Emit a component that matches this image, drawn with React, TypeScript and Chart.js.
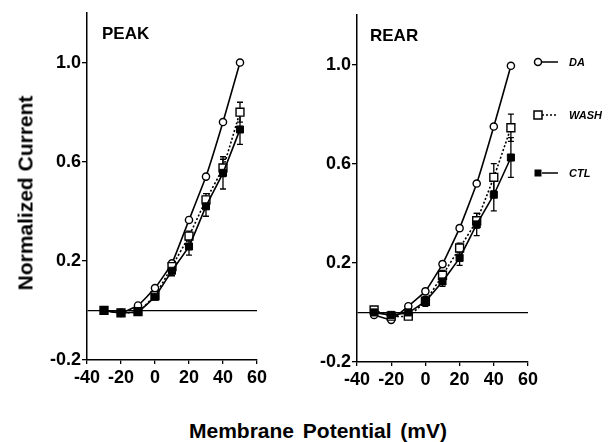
import React, { useEffect, useRef } from 'react';
import { Chart, registerables } from 'chart.js';

Chart.register(...registerables);

// ---- data ----
const voltages = [-30, -20, -10, 0, 10, 20, 30, 40, 50];
const xTickStep = 20;
const xMin = -40;
const xMax = 60;
const yMin = -0.2;
const yMax = 1.2;
const yTickValues = [-0.2, 0, 0.2, 0.6, 1.0];
const yTickLabels = ['-0.2', '', '0.2', '0.6', '1.0'];
const seriesNames = ['DA', 'WASH', 'CTL'];

const peakDA = [0.0, -0.01, 0.02, 0.09, 0.19, 0.365, 0.54, 0.76, 1.0];
const peakWASH = [0.0, -0.01, -0.005, 0.06, 0.177, 0.3, 0.446, 0.575, 0.8];
const peakCTL = [0.0, -0.01, -0.005, 0.055, 0.16, 0.258, 0.42, 0.555, 0.73];
const peakDAErr = [0, 0, 0, 0, 0.01, 0.01, 0, 0, 0];
const peakWASHErr = [0, 0, 0, 0.01, 0.015, 0.02, 0.025, 0.035, 0.04];
const peakCTLErr = [0, 0, 0, 0.01, 0.02, 0.035, 0.04, 0.065, 0.06];

const rearDA = [-0.01, -0.03, 0.025, 0.085, 0.195, 0.34, 0.52, 0.75, 0.995];
const rearWASH = [0.01, -0.015, -0.015, 0.045, 0.15, 0.26, 0.37, 0.545, 0.745];
const rearCTL = [0.0, -0.01, 0.0, 0.045, 0.125, 0.22, 0.355, 0.475, 0.625];
const rearDAErr = [0, 0, 0.01, 0.01, 0.01, 0.01, 0, 0, 0];
const rearWASHErr = [0, 0, 0, 0.01, 0.02, 0.02, 0.03, 0.055, 0.055];
const rearCTLErr = [0, 0, 0, 0.02, 0.02, 0.03, 0.045, 0.065, 0.08];

const FONT = "'Liberation Sans', Arial, Helvetica, sans-serif";

const toPts = (ys: number[]) => voltages.map((x, i) => ({ x, y: ys[i] }));

const errorBarPlugin = {
  id: 'errorBars',
  beforeDatasetsDraw(chart: any) {
    const { ctx } = chart;
    const xs = chart.scales.x;
    const ys = chart.scales.y;
    ctx.save();
    ctx.strokeStyle = '#000';
    ctx.lineWidth = 1.3;
    chart.data.datasets.forEach((ds: any) => {
      const errs: number[] | undefined = ds.errors;
      if (!errs) return;
      ds.data.forEach((p: any, i: number) => {
        const e = errs[i];
        if (!e) return;
        const px = xs.getPixelForValue(p.x);
        const t = ys.getPixelForValue(p.y + e);
        const b = ys.getPixelForValue(p.y - e);
        ctx.beginPath();
        ctx.moveTo(px, t);
        ctx.lineTo(px, b);
        ctx.moveTo(px - 3, t);
        ctx.lineTo(px + 3, t);
        ctx.moveTo(px - 3, b);
        ctx.lineTo(px + 3, b);
        ctx.stroke();
      });
    });
    ctx.restore();
  },
};

const legendPlugin = {
  id: 'sideLegend',
  afterDraw(chart: any) {
    const opts = chart.options.plugins.sideLegend;
    if (!opts || !opts.show) return;
    const { ctx } = chart;
    const rows = [62, 115, 173];
    const mx = 238;
    ctx.save();
    ctx.strokeStyle = '#000';
    ctx.fillStyle = '#000';
    ctx.lineWidth = 1.5;
    rows.forEach((ry, i) => {
      // line
      ctx.beginPath();
      ctx.setLineDash(i === 1 ? [2, 2] : []);
      ctx.moveTo(mx + 4, ry);
      ctx.lineTo(mx + 20, ry);
      ctx.stroke();
      ctx.setLineDash([]);
      // marker
      ctx.beginPath();
      if (i === 0) {
        ctx.arc(mx, ry, 3.5, 0, Math.PI * 2);
        ctx.fillStyle = '#fff';
        ctx.fill();
        ctx.stroke();
      } else if (i === 1) {
        ctx.rect(mx - 4, ry - 4, 8, 8);
        ctx.fillStyle = '#fff';
        ctx.fill();
        ctx.stroke();
      } else {
        ctx.rect(mx - 3.5, ry - 3.5, 7, 7);
        ctx.fillStyle = '#000';
        ctx.fill();
      }
      ctx.fillStyle = '#000';
      ctx.font = `italic bold 11px ${FONT}`;
      ctx.textBaseline = 'middle';
      ctx.textAlign = 'left';
      ctx.fillText(seriesNames[i], 269, ry + 1);
    });
    ctx.restore();
  },
};

function makeConfig(
  da: number[], wash: number[], ctl: number[],
  daErr: number[], washErr: number[], ctlErr: number[],
  pad: { top: number; right: number }, showLegend: boolean
): any {
  return {
    type: 'line',
    data: {
      datasets: [
        {
          label: seriesNames[0], data: toPts(da), errors: daErr, order: 3,
          borderColor: '#000', borderWidth: 1.6, backgroundColor: '#fff',
          pointStyle: 'circle', pointRadius: 3.6, pointBorderWidth: 1.4,
          pointBackgroundColor: '#fff', pointBorderColor: '#000', tension: 0.1,
        },
        {
          label: seriesNames[1], data: toPts(wash), errors: washErr, order: 2,
          borderColor: '#000', borderWidth: 1.6, borderDash: [2, 2], backgroundColor: '#fff',
          pointStyle: 'rect', pointRadius: 5.6, pointBorderWidth: 1.4,
          pointBackgroundColor: '#fff', pointBorderColor: '#000', tension: 0.1,
        },
        {
          label: seriesNames[2], data: toPts(ctl), errors: ctlErr, order: 1,
          borderColor: '#000', borderWidth: 1.6, backgroundColor: '#000',
          pointStyle: 'rect', pointRadius: 5, pointBorderWidth: 1,
          pointBackgroundColor: '#000', pointBorderColor: '#000', tension: 0.1,
        },
      ],
    },
    options: {
      responsive: false,
      animation: false,
      layout: { padding: { top: pad.top, right: pad.right, left: 0, bottom: 0 } },
      plugins: {
        legend: { display: false },
        tooltip: { enabled: false },
        sideLegend: { show: showLegend },
      },
      scales: {
        x: {
          type: 'linear',
          min: xMin,
          max: xMax,
          afterFit: (s: any) => { s.height = 40; },
          ticks: {
            stepSize: xTickStep,
            color: '#000',
            font: { family: FONT, size: 18, weight: 'bold' },
            padding: 3,
            maxRotation: 0,
          },
          grid: { drawOnChartArea: false, tickLength: 4, tickColor: '#000', lineWidth: 1.3 },
          border: { display: true, color: '#000', width: 1.5 },
        },
        y: {
          type: 'linear',
          min: yMin,
          max: yMax,
          afterFit: (s: any) => { s.width = 57; },
          afterBuildTicks: (s: any) => { s.ticks = yTickValues.map((v) => ({ value: v })); },
          ticks: {
            color: '#000',
            font: { family: FONT, size: 18, weight: 'bold' },
            padding: 1,
            callback: (_v: any, i: number) => yTickLabels[i],
          },
          grid: {
            drawOnChartArea: true,
            tickLength: 5,
            lineWidth: 1.3,
            color: (c: any) => (c.tick && c.tick.value === 0 ? '#000' : 'rgba(0,0,0,0)'),
            tickColor: (c: any) => (c.tick && c.tick.value === 0 ? 'rgba(0,0,0,0)' : '#000'),
          },
          border: { display: true, color: '#000', width: 1.5 },
        },
      },
    },
    plugins: [errorBarPlugin, legendPlugin],
  };
}

export default function App() {
  const leftRef = useRef<HTMLCanvasElement | null>(null);
  const rightRef = useRef<HTMLCanvasElement | null>(null);

  useEffect(() => {
    const c1 = new Chart(
      leftRef.current as HTMLCanvasElement,
      makeConfig(peakDA, peakWASH, peakCTL, peakDAErr, peakWASHErr, peakCTLErr, { top: 13, right: 12 }, false)
    );
    const c2 = new Chart(
      rightRef.current as HTMLCanvasElement,
      makeConfig(rearDA, rearWASH, rearCTL, rearDAErr, rearWASHErr, rearCTLErr, { top: 15, right: 82 }, true)
    );
    return () => {
      c1.destroy();
      c2.destroy();
    };
  }, []);

  const txt: React.CSSProperties = {
    position: 'absolute',
    fontFamily: FONT,
    fontWeight: 'bold',
    color: '#000',
    whiteSpace: 'nowrap',
    lineHeight: 1,
  };

  return (
    <div style={{ position: 'fixed', left: 0, top: 0, width: 610, height: 442, background: '#fff', overflow: 'hidden' }}>
      <canvas ref={leftRef} width={240} height={400} style={{ position: 'absolute', left: 30, top: 0, width: 240, height: 400 }} />
      <canvas ref={rightRef} width={310} height={402} style={{ position: 'absolute', left: 300, top: 0, width: 310, height: 402 }} />
      <div style={{ ...txt, left: 102, top: 33, fontSize: 17, transform: 'translateY(-50%)' }}>PEAK</div>
      <div style={{ ...txt, left: 370, top: 35, fontSize: 17, transform: 'translateY(-50%)' }}>REAR</div>
      <div style={{ ...txt, left: 25, top: 193, fontSize: 21, transform: 'translate(-50%, -50%) rotate(-90deg)' }}>
        Normalized Current
      </div>
      <div style={{ ...txt, left: 318, top: 430, fontSize: 21, transform: 'translate(-50%, -50%)', wordSpacing: 3 }}>
        Membrane Potential (mV)
      </div>
    </div>
  );
}
